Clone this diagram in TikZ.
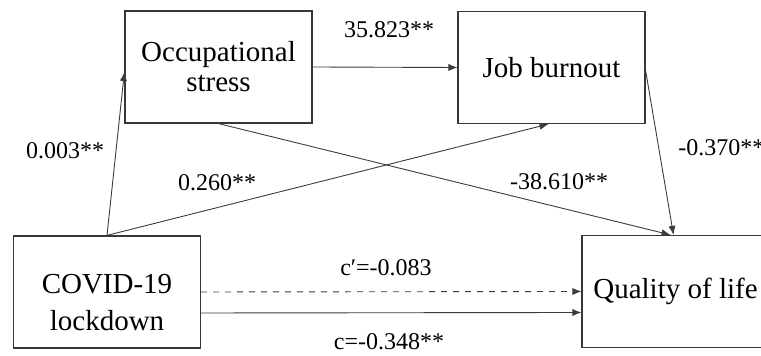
\documentclass[tikz,border=0pt]{standalone}
\usepackage{fontspec}
\setmainfont{Liberation Serif}
\usetikzlibrary{positioning,arrows.meta}
\definecolor{BoxGray}{RGB}{55,55,55}
\definecolor{LineGray}{RGB}{60,60,60}

\begin{document}
\begin{tikzpicture}[x=0.5pt,y=-0.5pt,
  >={Latex[length=4.5pt,width=3.6pt]},
  varbox/.style={draw=BoxGray,line width=0.6pt,
    minimum width=93.5pt,minimum height=56pt,inner sep=0pt},
  boxtext/.style={align=center,inner sep=0pt,
    font=\fontsize{14.5}{15}\selectfont},
  link/.style={->,LineGray,line width=0.45pt},
  coef/.style={font=\fontsize{12}{14}\selectfont,inner sep=1pt}]
  \useasboundingbox (0,0) rectangle (761,356);

  % ---------- 变量框 ----------
  \node[varbox,boxtext] (stress) at (218.5,67) {Occupational\\stress};
  \node[varbox,boxtext] (burnout) at (551.5,67.5) {Job burnout};
  \node[varbox] (covid) at (107,292) {};
  \node[boxtext] (covidtext) at (107,303) {COVID-19\\[3.5pt]lockdown};
  \node[varbox,boxtext] (quality) at (675.5,291.5) {Quality of life};

  % 路径
  \draw[link] (covid.north) -- ([yshift=-2.5pt]stress.west);
  \draw[link] (covid.north) -- ([xshift=-1.5pt]burnout.south);
  \draw[link] (stress.east) -- (burnout.west);
  \draw[link] (stress.south) -- ([xshift=-2.5pt]quality.north);
  \draw[link] ([yshift=-1.5pt]burnout.east) -- ([xshift=-1pt]quality.north);
  \draw[link,dashed] (covid.east) -- (quality.west);
  \draw[link] ([yshift=-10.5pt]covid.east) -- ([yshift=-10.5pt]quality.west);

  % 系数
  \node[coef] (a1) at (65,151) {0.003**};
  \node[coef] (a2) at (217,183) {0.260**};
  \node[coef] (d21) at (389,30) {35.823**};
  \node[coef] (b1) at (559,182) {-38.610**};
  \node[coef,anchor=west] (b2) at (676,148) {-0.370**};
  \node[coef] (cprime) at (386,268) {c′=-0.083};
  \node[coef] (ctotal) at (389,342) {c=-0.348**};
\end{tikzpicture}
\end{document}
